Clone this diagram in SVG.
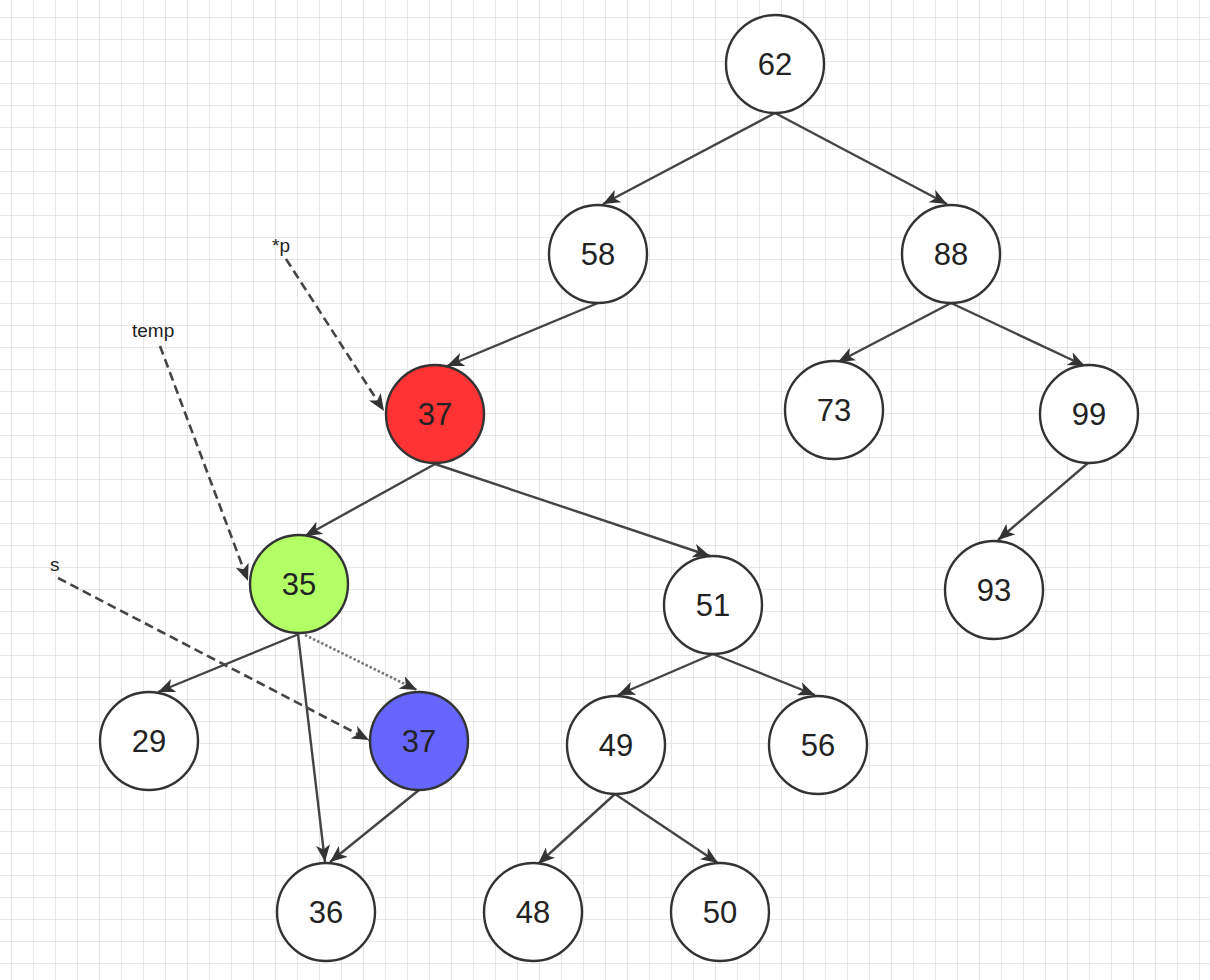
<svg xmlns="http://www.w3.org/2000/svg" width="1210" height="980" viewBox="0 0 1210 980">
<style>
.node circle{stroke:#333;stroke-width:2.4}
.node text{font-family:"Liberation Sans",Arial,sans-serif;font-size:31px;fill:#222;text-anchor:middle;dominant-baseline:central}
.edge{stroke:#444;stroke-width:2.4;fill:none}
.dash{stroke:#444;stroke-width:2.6;fill:none;stroke-dasharray:9 5}
.dot{stroke:#777;stroke-width:2.6;fill:none;stroke-dasharray:2.5 2}
.lbl{font-family:"Liberation Sans",Arial,sans-serif;font-size:19px;fill:#222}
</style>
<defs>
<pattern id="g" width="22" height="22" patternUnits="userSpaceOnUse" x="11" y="17">
<path d="M0,0 H22 M0,0 V22" stroke="#e0e0e0" stroke-width="1.6" fill="none"/>
</pattern>
<marker id="ah" markerUnits="userSpaceOnUse" markerWidth="18" markerHeight="14" refX="17" refY="7" orient="auto">
<path d="M0,0 L17,7 L0,14 L4.5,7 z" fill="#333"/>
</marker>
</defs>
<rect width="1210" height="980" fill="#fff"/>
<rect width="1210" height="980" fill="url(#g)"/>
<g id="connectors">
<line class="edge" x1="775" y1="113" x2="603" y2="204" marker-end="url(#ah)"/>
<line class="edge" x1="775" y1="113" x2="947" y2="204" marker-end="url(#ah)"/>
<line class="edge" x1="598" y1="303" x2="447" y2="366" marker-end="url(#ah)"/>
<line class="edge" x1="951" y1="303" x2="838" y2="362" marker-end="url(#ah)"/>
<line class="edge" x1="951" y1="303" x2="1085" y2="366" marker-end="url(#ah)"/>
<line class="edge" x1="435" y1="464" x2="305" y2="536" marker-end="url(#ah)"/>
<line class="edge" x1="435" y1="464" x2="710" y2="556" marker-end="url(#ah)"/>
<line class="edge" x1="1088" y1="463" x2="998" y2="540" marker-end="url(#ah)"/>
<line class="edge" x1="299" y1="634" x2="158" y2="692" marker-end="url(#ah)"/>
<line class="edge" x1="298" y1="634" x2="325" y2="862" marker-end="url(#ah)"/>
<line class="edge" x1="419" y1="790" x2="330" y2="862" marker-end="url(#ah)"/>
<line class="dot" x1="305" y1="635" x2="417" y2="690" marker-end="url(#ah)"/>
<line class="edge" x1="713" y1="654" x2="618" y2="695" marker-end="url(#ah)"/>
<line class="edge" x1="713" y1="654" x2="815" y2="695" marker-end="url(#ah)"/>
<line class="edge" x1="615" y1="794" x2="538" y2="864" marker-end="url(#ah)"/>
<line class="edge" x1="615" y1="794" x2="718" y2="863" marker-end="url(#ah)"/>
<line class="dash" x1="286" y1="259" x2="384" y2="411" marker-end="url(#ah)"/>
<line class="dash" x1="160" y1="346" x2="248" y2="581" marker-end="url(#ah)"/>
<line class="dash" x1="58" y1="578" x2="369" y2="740" marker-end="url(#ah)"/>
</g>
<g id="labels">
<text class="lbl" x="272" y="252">*p</text>
<text class="lbl" x="132" y="337">temp</text>
<text class="lbl" x="50" y="571">s</text>
</g>
<g id="n62" class="node"><circle cx="775" cy="64" r="49" fill="#fff"/><text x="775" y="64">62</text></g>
<g id="n58" class="node"><circle cx="598" cy="254" r="49" fill="#fff"/><text x="598" y="254">58</text></g>
<g id="n88" class="node"><circle cx="951" cy="254" r="49" fill="#fff"/><text x="951" y="254">88</text></g>
<g id="n37a" class="node"><circle cx="435" cy="414" r="49" fill="#ff3333"/><text x="435" y="414">37</text></g>
<g id="n73" class="node"><circle cx="834" cy="410" r="49" fill="#fff"/><text x="834" y="410">73</text></g>
<g id="n99" class="node"><circle cx="1089" cy="414" r="49" fill="#fff"/><text x="1089" y="414">99</text></g>
<g id="n35" class="node"><circle cx="299" cy="584" r="49" fill="#b3ff66"/><text x="299" y="584">35</text></g>
<g id="n51" class="node"><circle cx="713" cy="605" r="49" fill="#fff"/><text x="713" y="605">51</text></g>
<g id="n93" class="node"><circle cx="994" cy="590" r="49" fill="#fff"/><text x="994" y="590">93</text></g>
<g id="n29" class="node"><circle cx="149" cy="741" r="49" fill="#fff"/><text x="149" y="741">29</text></g>
<g id="n37b" class="node"><circle cx="419" cy="741" r="49" fill="#6666ff"/><text x="419" y="741">37</text></g>
<g id="n49" class="node"><circle cx="616" cy="745" r="49" fill="#fff"/><text x="616" y="745">49</text></g>
<g id="n56" class="node"><circle cx="818" cy="745" r="49" fill="#fff"/><text x="818" y="745">56</text></g>
<g id="n36" class="node"><circle cx="326" cy="912" r="49" fill="#fff"/><text x="326" y="912">36</text></g>
<g id="n48" class="node"><circle cx="533" cy="912" r="49" fill="#fff"/><text x="533" y="912">48</text></g>
<g id="n50" class="node"><circle cx="720" cy="912" r="49" fill="#fff"/><text x="720" y="912">50</text></g>
</svg>
